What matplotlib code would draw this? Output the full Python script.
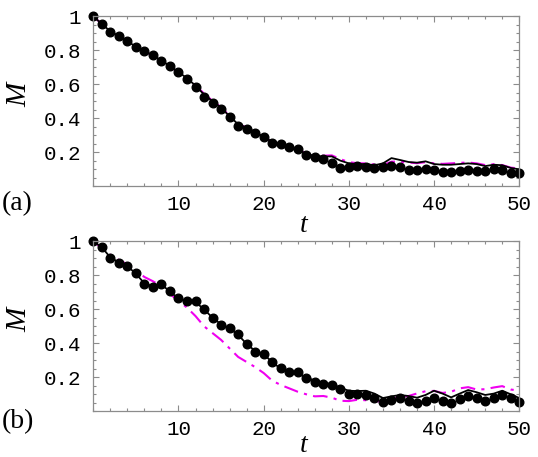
""" plot magnetisation M(t) for runs (a) and (b)
"""
import numpy as np
import matplotlib
matplotlib.use('Agg')
import matplotlib.pyplot as plt
from matplotlib.ticker import MultipleLocator

t = np.arange(0, 51)

# panel (a)
dots_a = [1.0, 0.953, 0.909, 0.886, 0.855, 0.818, 0.796, 0.772, 0.737, 0.708,
          0.672, 0.633, 0.586, 0.527, 0.488, 0.453, 0.409, 0.357, 0.335, 0.312,
          0.288, 0.257, 0.247, 0.233, 0.218, 0.182, 0.171, 0.159, 0.135, 0.110,
          0.115, 0.121, 0.115, 0.110, 0.115, 0.119, 0.113, 0.094, 0.098, 0.102,
          0.098, 0.086, 0.086, 0.092, 0.096, 0.092, 0.092, 0.104, 0.098, 0.080,
          0.076]
line_a = [1.0, 0.955, 0.912, 0.884, 0.855, 0.820, 0.795, 0.770, 0.740, 0.707,
          0.672, 0.636, 0.592, 0.540, 0.500, 0.462, 0.412, 0.365, 0.345, 0.320,
          0.290, 0.262, 0.245, 0.226, 0.213, 0.192, 0.178, 0.175, 0.176, 0.151,
          0.135, 0.131, 0.131, 0.124, 0.135, 0.166, 0.155, 0.143, 0.139, 0.147,
          0.131, 0.127, 0.127, 0.131, 0.135, 0.131, 0.119, 0.127, 0.124, 0.108,
          0.100]
dash_a = [1.0, 0.955, 0.912, 0.884, 0.855, 0.820, 0.795, 0.768, 0.735, 0.705,
          0.670, 0.634, 0.594, 0.545, 0.503, 0.465, 0.415, 0.368, 0.345, 0.320,
          0.290, 0.262, 0.245, 0.228, 0.215, 0.195, 0.182, 0.180, 0.182, 0.160,
          0.142, 0.136, 0.135, 0.128, 0.125, 0.145, 0.145, 0.140, 0.136, 0.142,
          0.135, 0.132, 0.135, 0.138, 0.140, 0.135, 0.125, 0.130, 0.125, 0.110,
          0.105]

# panel (b)
dots_b = [1.0, 0.968, 0.900, 0.874, 0.856, 0.812, 0.749, 0.729, 0.749, 0.708,
          0.665, 0.649, 0.649, 0.600, 0.547, 0.508, 0.488, 0.453, 0.394, 0.351,
          0.339, 0.292, 0.253, 0.233, 0.231, 0.198, 0.174, 0.163, 0.157, 0.129,
          0.100, 0.100, 0.096, 0.076, 0.057, 0.066, 0.076, 0.061, 0.049, 0.063,
          0.076, 0.061, 0.051, 0.072, 0.092, 0.076, 0.061, 0.080, 0.096, 0.076,
          0.057]
line_b = [1.0, 0.965, 0.905, 0.876, 0.853, 0.810, 0.752, 0.735, 0.745, 0.705,
          0.662, 0.645, 0.642, 0.600, 0.550, 0.512, 0.488, 0.450, 0.396, 0.355,
          0.335, 0.290, 0.250, 0.225, 0.220, 0.200, 0.180, 0.168, 0.160, 0.138,
          0.121, 0.119, 0.121, 0.104, 0.078, 0.088, 0.096, 0.090, 0.080, 0.096,
          0.121, 0.104, 0.082, 0.104, 0.125, 0.112, 0.096, 0.104, 0.121, 0.100,
          0.078]
dash_b = [1.0, 0.960, 0.920, 0.890, 0.865, 0.830, 0.790, 0.765, 0.735, 0.690,
          0.650, 0.610, 0.560, 0.500, 0.460, 0.420, 0.370, 0.320, 0.290, 0.260,
          0.225, 0.180, 0.155, 0.135, 0.115, 0.100, 0.088, 0.090, 0.080, 0.062,
          0.060, 0.068, 0.065, 0.058, 0.060, 0.075, 0.085, 0.090, 0.105, 0.118,
          0.120, 0.108, 0.115, 0.135, 0.142, 0.128, 0.130, 0.140, 0.148, 0.128,
          0.122]

yticks = [0.2, 0.4, 0.6, 0.8, 1.0]
ytick_labels = ['0.2', '0.4', '0.6', '0.8', '1']
xticks = [10, 20, 30, 40, 50]

frame_col = '#8c8c8c'
magenta = '#f000f0'


def draw_panel(ax, dots, line, dash, tag, fig, tag_y, t_y):
    ax.plot(t, dash, color=magenta, lw=1.5, dashes=(7, 3, 1.5, 3))
    ax.plot(t, line, color='black', lw=1.3)
    ax.plot(t, dots, 'o', color='black', ms=6.2, mec='black', clip_on=False)
    ax.set_xlim(0, 50)
    ax.set_ylim(0, 1)
    ax.set_xticks(xticks)
    ax.set_yticks(yticks)
    ax.set_yticklabels(ytick_labels)
    ax.xaxis.set_minor_locator(MultipleLocator(2))
    ax.yaxis.set_minor_locator(MultipleLocator(0.05))
    ax.tick_params(which='both', direction='in', top=True, right=True,
                   color=frame_col, width=0.8)
    ax.tick_params(which='major', length=4)
    ax.tick_params(which='minor', length=2)
    ax.tick_params(axis='y', which='major', pad=9)
    ax.tick_params(axis='x', which='major', pad=6)
    for lab in ax.get_xticklabels() + ax.get_yticklabels():
        lab.set_family('Liberation Mono')
        lab.set_fontsize(15)
    for sp in ax.spines.values():
        sp.set_color(frame_col)
        sp.set_linewidth(0.9)
    ax.set_ylabel('M', family='Liberation Serif', style='italic', fontsize=21)
    ax.yaxis.set_label_coords(-0.143, 0.54)
    ax.set_xlabel('t', family='Liberation Serif', style='italic', fontsize=20)
    ax.xaxis.set_label_coords(0.493, t_y)
    fig.text(0.004, tag_y, tag, family='Liberation Serif', fontsize=20,
             va='center', ha='left')


fig = plt.figure(figsize=(5.38, 4.57), dpi=100)
ax1 = fig.add_axes([0.1734, 0.5923, 0.7918, 0.372])
ax2 = fig.add_axes([0.1734, 0.1000, 0.7918, 0.372])
draw_panel(ax1, dots_a, line_a, dash_a, '(a)', fig, 0.555, -0.155)
draw_panel(ax2, dots_b, line_b, dash_b, '(b)', fig, 0.077, -0.128)

plt.savefig('out.png', dpi=100)
